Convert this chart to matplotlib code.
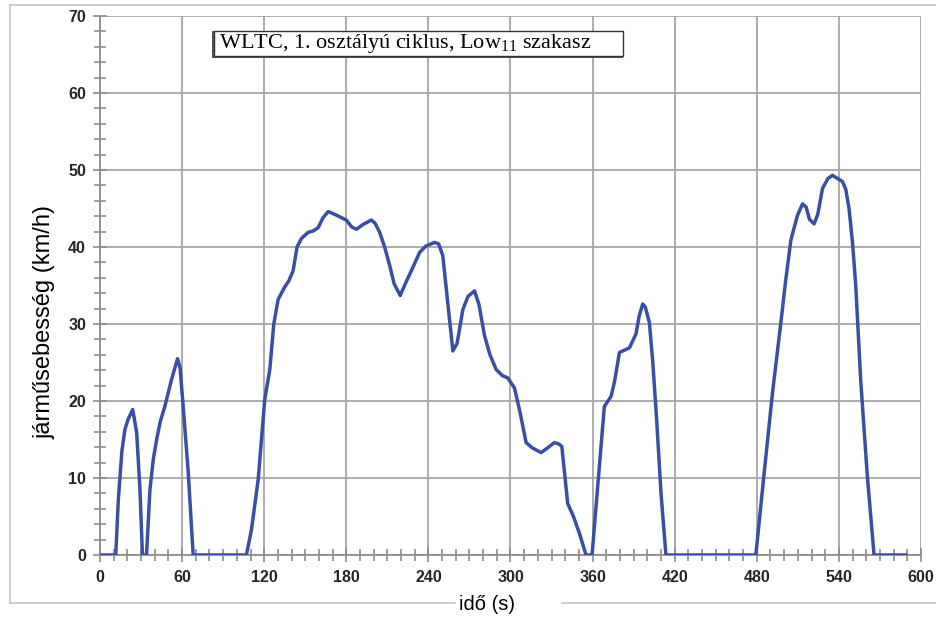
import matplotlib
matplotlib.use('Agg')
import matplotlib.pyplot as plt
from matplotlib.lines import Line2D
from matplotlib.patches import Rectangle
from matplotlib.ticker import MultipleLocator

plt.rcParams['mathtext.fontset'] = 'custom'
plt.rcParams['mathtext.rm'] = 'Liberation Serif'

# adatok (idő s, sebesség km/h)
ido = [0, 11.5, 13.4, 16, 18.2, 20.5, 23.9, 26.8, 29.2, 31, 34, 36.5, 39, 41.4,
       44, 47.4, 52.3, 56.7, 58.5, 60.8, 64.5, 68.1, 107, 110.7, 115.6, 120.4,
       124.1, 127, 130.2, 135, 138, 141.1, 144, 147.2, 152.1, 156, 159.4, 163,
       166.7, 172, 180, 184, 187.4, 192, 198.3, 201, 204.4, 208, 211.7, 215,
       219.4, 223, 227.5, 233.6, 238, 244.5, 247.5, 250.5, 254, 257.9, 261,
       265.2, 269, 273.7, 277, 281, 285, 289.5, 294, 298, 302.9, 307, 311.4,
       316, 322.4, 327, 332.1, 335.5, 337.5, 341.8, 346, 350.4, 355.2, 359.6,
       364, 368.6, 373.5, 376, 379.6, 386.9, 391.7, 394, 396.6, 398.5, 401.5,
       404, 406.8, 410, 413.6, 479.3, 485, 491.5, 497.6, 501, 504.9, 509.7,
       513.4, 516, 518.5, 521.9, 524.5, 528, 532, 535.3, 539, 542.6, 545,
       547.4, 550, 552.3, 556, 560.8, 565.7, 588.8]
sebesseg = [0, 0, 7.2, 13.5, 16.3, 17.6, 18.9, 15.9, 8.5, 0, 0, 8.5, 12.5, 15,
            17.3, 19.3, 22.8, 25.5, 24.3, 19.3, 10.7, 0, 0, 3.3, 9.8, 20.2,
            24.1, 30, 33.2, 34.8, 35.6, 36.9, 40, 41.1, 41.9, 42.1, 42.5, 43.8,
            44.6, 44.2, 43.5, 42.6, 42.3, 42.9, 43.5, 43.1, 41.9, 40, 37.6,
            35.2, 33.7, 35.2, 36.9, 39.3, 40.1, 40.6, 40.4, 38.9, 33, 26.5,
            27.5, 31.9, 33.6, 34.3, 32.5, 28.5, 26, 24.1, 23.3, 23.0, 21.7,
            18.5, 14.6, 13.9, 13.3, 13.9, 14.6, 14.4, 14.1, 6.7, 5, 2.8, 0, 0,
            9.5, 19.3, 20.6, 22.5, 26.3, 26.9, 28.7, 31, 32.6, 32.2, 30.2, 25,
            17.6, 8, 0, 0, 10, 21.1, 30.2, 35.5, 40.9, 44.1, 45.6, 45.2, 43.6,
            43.0, 44.2, 47.6, 48.9, 49.3, 48.9, 48.5, 47.5, 45.0, 40.5, 35.0,
            22.5, 10.2, 0, 0]

fig = plt.figure(figsize=(9.37, 6.19), dpi=100)
ax = fig.add_axes([100/937, 1-555/619, 821/937, 539/619])

ax.plot(ido, sebesseg, color='#3a4ea6', lw=2.5, solid_joinstyle='round', zorder=3)

ax.set_xlim(0, 600)
ax.set_ylim(0, 70)
ax.xaxis.set_major_locator(MultipleLocator(60))
ax.xaxis.set_minor_locator(MultipleLocator(10))
ax.yaxis.set_major_locator(MultipleLocator(10))
ax.yaxis.set_minor_locator(MultipleLocator(2))
ax.grid(True, which='major', color='#a6a6a6', lw=1.3)
ax.set_axisbelow(True)

for s in ['top', 'right']:
    ax.spines[s].set_visible(False)
for s in ['left', 'bottom']:
    ax.spines[s].set_color('#8c8c8c')
    ax.spines[s].set_linewidth(1.3)

ax.tick_params(which='major', direction='inout', length=10, width=1.2, color='#8c8c8c')
ax.tick_params(which='minor', direction='inout', length=9, width=1.2, color='#8c8c8c')
ax.tick_params(axis='x', which='major', pad=6)
ax.tick_params(axis='y', which='major', pad=5)
for lab in ax.get_xticklabels() + ax.get_yticklabels():
    lab.set_fontfamily('Liberation Sans')
    lab.set_fontweight('bold')
    lab.set_fontsize(11.5)
    lab.set_color('#262626')

# felirat doboz (árnyékkal)
fig.add_artist(Rectangle((212/937, 1-58/619), 411/937, 27/619, transform=fig.transFigure,
                         fc='#555555', ec='none', zorder=4))
fig.add_artist(Rectangle((214/937, 1-56/619), 409/937, 25/619, transform=fig.transFigure,
                         fc='white', ec='#333333', lw=1.0, zorder=5))
fig.text(219/937, 1-43.5/619, 'WLTC, 1. osztályú ciklus, Low$_{\\mathrm{11}}$ szakasz',
         fontsize=16, family='Liberation Serif', va='center', ha='left', zorder=6)

fig.text(45/937, 1-322/619, 'járműsebesség (km/h)', rotation=90, ha='center', va='center',
         fontsize=17, family='Liberation Sans')
fig.text(487/937, 1-605/619, 'idő (s)', ha='center', va='center', fontsize=14.5,
         family='Liberation Sans')

# világosszürke keret
kc = '#c8c8c8'
fig.add_artist(Line2D([10/937, 10/937], [1-5/619, 1-603/619], color=kc, lw=1.3))
fig.add_artist(Line2D([10/937, 1], [1-5/619, 1-5/619], color=kc, lw=1.3))
fig.add_artist(Line2D([10/937, 455/937], [1-603/619, 1-603/619], color=kc, lw=1.3))
fig.add_artist(Line2D([562/937, 1], [1-603/619, 1-603/619], color=kc, lw=1.3))

fig.savefig('out.png', dpi=100)
